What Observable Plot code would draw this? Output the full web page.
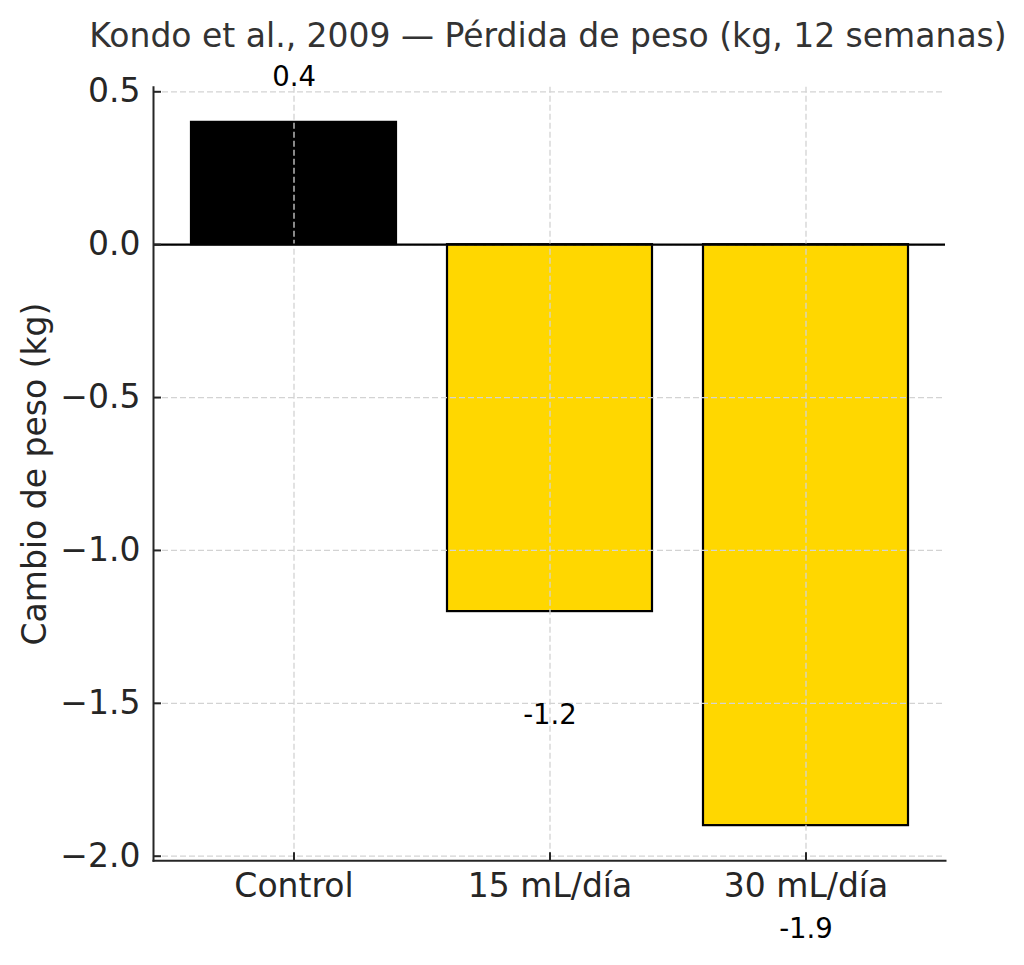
<!DOCTYPE html>
<html>
<head>
<meta charset="utf-8">
<script src="https://cdn.jsdelivr.net/npm/d3@7"></script>
<script src="https://cdn.jsdelivr.net/npm/@observablehq/plot@0.6"></script>
<style>
  html, body { margin: 0; padding: 0; background: white; }
  #chart { width: 1024px; height: 965px; }
</style>
</head>
<body>
<div id="chart"></div>
<script>
const categories = ["Control", "15 mL/día", "30 mL/día"];
const values = [0.4, -1.2, -1.9];
const barColors = ["#000000", "#FFD700", "#FFD700"];
const valueLabels = ["0.4", "-1.2", "-1.9"];
const yTicks = [0.5, 0, -0.5, -1.0, -1.5, -2.0];
const titleText = "Kondo et al., 2009 — Pérdida de peso (kg, 12 semanas)";
const yLabelText = "Cambio de peso (kg)";

const data = categories.map((c, i) => ({cat: c, v: values[i], color: barColors[i], label: valueLabels[i]}));
const pos = data.filter(d => d.v >= 0);
const neg = data.filter(d => d.v < 0);

const font = "DejaVu Sans, sans-serif";
const chart = Plot.plot({
  width: 1024,
  height: 965,
  marginLeft: 153,
  marginRight: 79,
  marginTop: 86.7,
  marginBottom: 104.7,
  style: {fontFamily: font, background: "white"},
  x: {type: "band", domain: categories, paddingInner: 0.2, paddingOuter: 0.144, align: 0.5},
  y: {domain: [-2.015, 0.515]},
  color: {type: "identity"},
  marks: [
    Plot.barY(data, {x: "cat", y: "v", fill: "color", stroke: "black", strokeWidth: 2.2}),
    Plot.gridY(yTicks, {stroke: "#d3d3d3", strokeOpacity: 1, strokeWidth: 1.3, strokeDasharray: "6,3"}),
    Plot.gridX(categories, {stroke: "#d3d3d3", strokeOpacity: 1, strokeWidth: 1.3, strokeDasharray: "6,3"}),
    Plot.ruleY([0], {stroke: "black", strokeWidth: 2.2}),
    Plot.frame({anchor: "left", stroke: "#262626", strokeWidth: 2}),
    Plot.frame({anchor: "bottom", stroke: "#262626", strokeWidth: 2}),
    Plot.axisY(yTicks, {tickSize: -8, tickPadding: 21, fontSize: 33, color: "#262626", strokeWidth: 2, tickFormat: d3.format(".1f"), label: null}),
    Plot.axisX({tickSize: -8, tickPadding: 21, fontSize: 33, color: "#262626", strokeWidth: 2, label: null}),
    Plot.text(pos, {x: "cat", y: "v", text: "label", dy: -45, fontSize: 27.5, fill: "black"}),
    Plot.text(neg, {x: "cat", y: "v", text: "label", dy: 104, fontSize: 27.5, fill: "black"}),
    Plot.text([yLabelText], {frameAnchor: "left", textAnchor: "middle", lineAnchor: "middle", rotate: -90, dx: -118, fontSize: 33, fill: "#262626"}),
    Plot.text([titleText], {frameAnchor: "top", textAnchor: "middle", lineAnchor: "middle", dy: -51, dx: -1.5, fontSize: 33, fill: "#333333"})
  ]
});
document.getElementById("chart").appendChild(chart);
</script>
</body>
</html>
